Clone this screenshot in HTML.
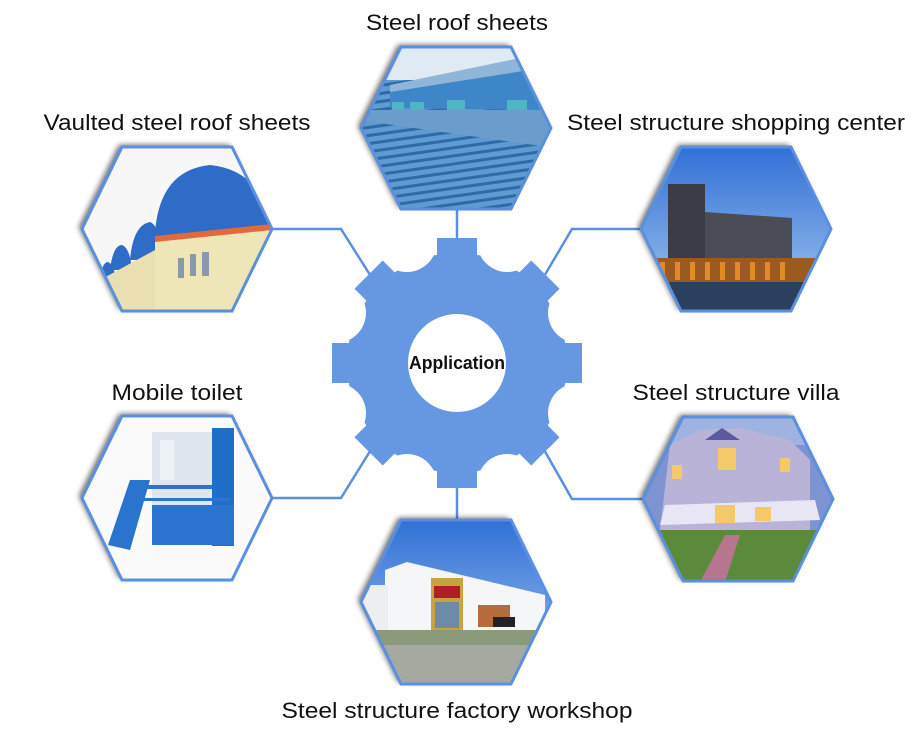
<!DOCTYPE html>
<html><head><meta charset="utf-8"><style>
html,body{margin:0;padding:0;background:#fff;}
svg{display:block}
text{font-family:"Liberation Sans",sans-serif;font-size:22px;fill:#111}
</style></head><body>
<svg width="915" height="729" viewBox="0 0 915 729" xmlns="http://www.w3.org/2000/svg">
<defs>
<filter id="sh" x="-10%" y="-10%" width="130%" height="130%"><feGaussianBlur in="SourceAlpha" stdDeviation="3"/><feOffset dx="-3" dy="-2"/><feComponentTransfer><feFuncA type="linear" slope="0.6"/></feComponentTransfer><feMerge><feMergeNode/><feMergeNode in="SourceGraphic"/></feMerge></filter>
<clipPath id="cTL"><polygon points="82,229 122,147 232,147 272,229 232,311 122,311"/></clipPath>
<clipPath id="cT"><polygon points="361,128 401,47 511,47 551,128 511,209 401,209"/></clipPath>
<clipPath id="cTR"><polygon points="641,229 681,147 791,147 831,229 791,311 681,311"/></clipPath>
<clipPath id="cML"><polygon points="82,498 122,416 232,416 272,498 232,580 122,580"/></clipPath>
<clipPath id="cMR"><polygon points="643,499 683,417 793,417 833,499 793,581 683,581"/></clipPath>
<clipPath id="cB"><polygon points="361,602 401,520 511,520 551,602 511,684 401,684"/></clipPath>
<linearGradient id="sky" x1="0" y1="0" x2="0" y2="1"><stop offset="0" stop-color="#2f6fd6"/><stop offset="1" stop-color="#a9c9ef"/></linearGradient>
<linearGradient id="roof" x1="0" y1="0" x2="0" y2="1"><stop offset="0" stop-color="#6fa6d6"/><stop offset="1" stop-color="#3b7bb8"/></linearGradient>
<pattern id="ribs" width="8" height="8" patternUnits="userSpaceOnUse" patternTransform="rotate(-8)"><rect width="8" height="8" fill="#5e9bd0"/><rect width="8" height="3" fill="#2f6aa8"/></pattern>
</defs>

<!-- connectors -->
<g stroke="#5b8fe0" stroke-width="2.5" fill="none">
<line x1="457" y1="205" x2="457" y2="245"/>
<line x1="457" y1="480" x2="457" y2="522"/>
<polyline points="272,229 341,229 372,278"/>
<polyline points="641,229 572,229 543,278"/>
<polyline points="272,498 341,498 372,448"/>
<polyline points="643,499 572,499 543,448"/>
</g>

<!-- gear -->
<g fill="#6597e2">
<circle cx="457" cy="363" r="110"/>
<g transform="translate(457,363)">
<rect x="-20" y="-125" width="40" height="50"/>
<rect x="-20" y="-125" width="40" height="50" transform="rotate(45)"/>
<rect x="-20" y="-125" width="40" height="50" transform="rotate(90)"/>
<rect x="-20" y="-125" width="40" height="50" transform="rotate(135)"/>
<rect x="-20" y="-125" width="40" height="50" transform="rotate(180)"/>
<rect x="-20" y="-125" width="40" height="50" transform="rotate(225)"/>
<rect x="-20" y="-125" width="40" height="50" transform="rotate(270)"/>
<rect x="-20" y="-125" width="40" height="50" transform="rotate(315)"/>
</g>
</g>
<g fill="#fff" transform="translate(457,363)">
<circle cx="0" cy="-131" r="30" transform="rotate(22.5)"/>
<circle cx="0" cy="-131" r="30" transform="rotate(67.5)"/>
<circle cx="0" cy="-131" r="30" transform="rotate(112.5)"/>
<circle cx="0" cy="-131" r="30" transform="rotate(157.5)"/>
<circle cx="0" cy="-131" r="30" transform="rotate(202.5)"/>
<circle cx="0" cy="-131" r="30" transform="rotate(247.5)"/>
<circle cx="0" cy="-131" r="30" transform="rotate(292.5)"/>
<circle cx="0" cy="-131" r="30" transform="rotate(337.5)"/>
<circle cx="0" cy="0" r="49"/>
</g>
<text x="457" y="369" text-anchor="middle" style="font-weight:bold;font-size:18px" textLength="96" lengthAdjust="spacingAndGlyphs">Application</text>

<!-- TL: vaulted roofs -->
<g filter="url(#sh)"><polygon points="82,229 122,147 232,147 272,229 232,311 122,311" fill="#f6f6f6"/></g>
<g clip-path="url(#cTL)">
<rect x="80" y="145" width="195" height="170" fill="#f7f7f7"/>
<path d="M155,232 Q160,170 210,165 Q260,170 272,225 L272,240 L155,240Z" fill="#2f6cc8"/>
<path d="M130,260 Q133,225 150,222 Q160,225 162,260Z" fill="#2f6cc8"/>
<path d="M110,270 Q113,245 122,245 Q130,248 132,270Z" fill="#2f6cc8"/>
<path d="M100,280 Q102,262 108,262 Q114,264 116,280Z" fill="#2f6cc8"/>
<polygon points="155,240 272,228 272,315 155,315" fill="#efe6b8"/>
<polygon points="100,280 155,250 155,315 100,315" fill="#e9dfb0"/>
<polygon points="155,236 272,224 272,230 155,242" fill="#e06a3a"/>
<g fill="#8899aa"><rect x="178" y="258" width="6" height="20"/><rect x="190" y="254" width="6" height="22"/><rect x="202" y="252" width="7" height="24"/></g>
</g>
<polygon points="82,229 122,147 232,147 272,229 232,311 122,311" fill="none" stroke="#5b8fe0" stroke-width="3"/>

<!-- T: roof sheets -->
<g filter="url(#sh)"><polygon points="361,128 401,47 511,47 551,128 511,209 401,209" fill="#7fb0dd"/></g>
<g clip-path="url(#cT)">
<rect x="358" y="45" width="200" height="170" fill="url(#ribs)"/>
<rect x="358" y="45" width="200" height="35" fill="#dfeaf2"/>
<polygon points="390,88 520,62 555,62 555,110 390,108" fill="#3d86c8"/>
<polygon points="390,85 520,58 555,58 555,66 390,92" fill="#8fb6d8"/>
<g fill="#4fb5c4"><rect x="392" y="102" width="12" height="8"/><rect x="410" y="102" width="14" height="10"/><rect x="447" y="100" width="18" height="12"/><rect x="507" y="100" width="20" height="12"/></g>
<polygon points="358,110 555,110 555,148 358,120" fill="#6a9dcc"/>
</g>
<polygon points="361,128 401,47 511,47 551,128 511,209 401,209" fill="none" stroke="#5b8fe0" stroke-width="3"/>

<!-- TR: shopping center -->
<g filter="url(#sh)"><polygon points="641,229 681,147 791,147 831,229 791,311 681,311" fill="#3c7fd8"/></g>
<g clip-path="url(#cTR)">
<rect x="638" y="145" width="196" height="170" fill="url(#sky)"/>
<polygon points="668,184 705,184 705,265 668,265" fill="#3a3d45"/>
<polygon points="705,212 792,218 792,265 705,265" fill="#4a4d55"/>
<rect x="640" y="258" width="192" height="24" fill="#9a5a20"/>
<g fill="#e08a2a"><rect x="660" y="262" width="5" height="18"/><rect x="675" y="262" width="5" height="18"/><rect x="690" y="262" width="5" height="18"/><rect x="705" y="262" width="5" height="18"/><rect x="720" y="262" width="5" height="18"/><rect x="735" y="262" width="5" height="18"/><rect x="750" y="262" width="5" height="18"/><rect x="765" y="262" width="5" height="18"/><rect x="780" y="262" width="5" height="18"/></g>
<rect x="640" y="282" width="192" height="32" fill="#2b3f5e"/>
</g>
<polygon points="641,229 681,147 791,147 831,229 791,311 681,311" fill="none" stroke="#5b8fe0" stroke-width="3"/>

<!-- ML: mobile toilet -->
<g filter="url(#sh)"><polygon points="82,498 122,416 232,416 272,498 232,580 122,580" fill="#fafafa"/></g>
<g clip-path="url(#cML)">
<rect x="80" y="414" width="195" height="170" fill="#fbfbfb"/>
<rect x="152" y="432" width="60" height="110" fill="#dfe6ee"/>
<rect x="212" y="428" width="22" height="118" fill="#1f6fc8"/>
<rect x="152" y="505" width="82" height="40" fill="#2a74cf"/>
<rect x="160" y="440" width="14" height="40" fill="#eef2f6"/>
<polygon points="108,545 130,480 150,480 130,550" fill="#2a74cf"/>
<rect x="140" y="485" width="72" height="4" fill="#2a74cf"/>
<rect x="140" y="498" width="90" height="3" fill="#2a74cf"/>
</g>
<polygon points="82,498 122,416 232,416 272,498 232,580 122,580" fill="none" stroke="#5b8fe0" stroke-width="3"/>

<!-- MR: villa -->
<g filter="url(#sh)"><polygon points="643,499 683,417 793,417 833,499 793,581 683,581" fill="#5a6fa8"/></g>
<g clip-path="url(#cMR)">
<rect x="640" y="415" width="196" height="170" fill="#7e93cf"/>
<rect x="640" y="415" width="196" height="30" fill="#9fb3e0"/>
<polygon points="670,445 700,430 740,428 790,440 810,460 810,530 660,530" fill="#b9b3d8"/>
<polygon points="705,440 722,428 740,440" fill="#5c5a9e"/>
<polygon points="665,505 815,500 820,520 660,525" fill="#e8e6f4"/>
<g fill="#f5c96a"><rect x="718" y="448" width="18" height="22"/><rect x="672" y="465" width="10" height="14"/><rect x="715" y="505" width="20" height="18"/><rect x="755" y="507" width="16" height="14"/><rect x="780" y="458" width="10" height="14"/></g>
<rect x="640" y="530" width="196" height="55" fill="#5a8a3a"/>
<polygon points="700,582 725,535 740,535 725,582" fill="#b7768e"/>
</g>
<polygon points="643,499 683,417 793,417 833,499 793,581 683,581" fill="none" stroke="#5b8fe0" stroke-width="3"/>

<!-- B: factory -->
<g filter="url(#sh)"><polygon points="361,602 401,520 511,520 551,602 511,684 401,684" fill="#3f7fd8"/></g>
<g clip-path="url(#cB)">
<rect x="358" y="518" width="196" height="170" fill="url(#sky)"/>
<polygon points="385,570 407,562 545,595 545,632 385,632" fill="#f5f6f8"/>
<rect x="360" y="585" width="28" height="45" fill="#eceef0"/>
<rect x="431" y="578" width="32" height="52" fill="#c9a33e"/>
<rect x="434" y="586" width="26" height="12" fill="#b01e2a"/>
<rect x="435" y="602" width="24" height="26" fill="#6d8aa8"/>
<rect x="478" y="605" width="32" height="22" fill="#b56b3a"/>
<rect x="358" y="630" width="196" height="58" fill="#8a9a7a"/>
<rect x="358" y="645" width="196" height="45" fill="#a6a9a0"/>
<rect x="493" y="617" width="22" height="10" fill="#222"/>
</g>
<polygon points="361,602 401,520 511,520 551,602 511,684 401,684" fill="none" stroke="#5b8fe0" stroke-width="3"/>

<!-- labels -->
<text x="457" y="30" text-anchor="middle" textLength="182" lengthAdjust="spacingAndGlyphs">Steel roof sheets</text>
<text x="177" y="130" text-anchor="middle" textLength="267" lengthAdjust="spacingAndGlyphs">Vaulted steel roof sheets</text>
<text x="736" y="130" text-anchor="middle" textLength="338" lengthAdjust="spacingAndGlyphs">Steel structure shopping center</text>
<text x="177" y="400" text-anchor="middle" textLength="131" lengthAdjust="spacingAndGlyphs">Mobile toilet</text>
<text x="736" y="400" text-anchor="middle" textLength="207" lengthAdjust="spacingAndGlyphs">Steel structure villa</text>
<text x="457" y="718" text-anchor="middle" textLength="351" lengthAdjust="spacingAndGlyphs">Steel structure factory workshop</text>
</svg>
</body></html>
